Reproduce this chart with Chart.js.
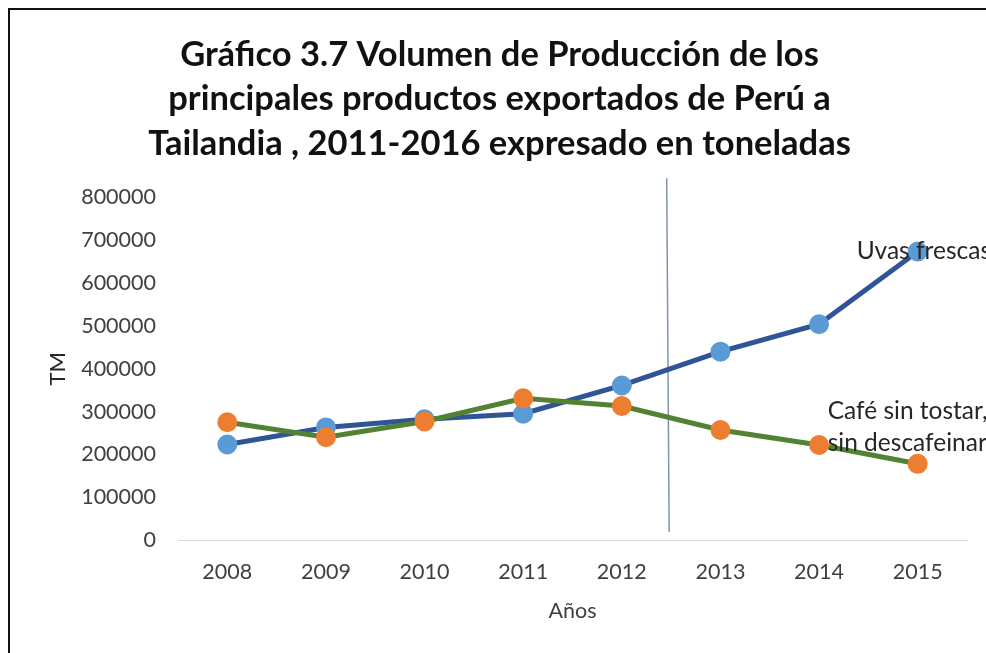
<!DOCTYPE html>
<html lang="es">
<head>
<meta charset="utf-8">
<title>Gráfico 3.7</title>
<script src="https://cdn.jsdelivr.net/npm/chart.js@4.4.1/dist/chart.umd.min.js"></script>
<style>
  html, body { margin: 0; padding: 0; background: #fff; overflow: hidden; }
  #frame { position: absolute; left: 8px; top: 8px; width: 1200px; height: 900px; border: 2px solid #111; }
  #chart { position: absolute; left: 0; top: 0; }
</style>
</head>
<body>
<div id="frame"></div>
<canvas id="chart" width="986" height="653"></canvas>
<script>
const years = ['2008', '2009', '2010', '2011', '2012', '2013', '2014', '2015'];
const uvasFrescas = [223000, 263000, 282000, 295000, 361000, 440000, 504000, 674000];
const cafeSinTostar = [275000, 240000, 277000, 331000, 313000, 257000, 222000, 178000];
const seriesNames = ['Uvas frescas', 'Café sin tostar, sin descafeinar'];
const titleLines = [
  'Gráfico 3.7 Volumen de Producción de los',
  'principales productos exportados de Perú a',
  'Tailandia , 2011-2016 expresado en toneladas',
];

const FONT = 'Lato, "Open Sans", sans-serif';

// etiquetas junto al último punto + línea vertical entre 2012 y 2013
const annotations = {
  id: 'annotations',
  beforeDatasetsDraw(chart) {
    const { ctx, scales: { x, y } } = chart;
    ctx.save();
    ctx.strokeStyle = '#7f93ae';
    ctx.lineWidth = 1.5;
    ctx.beginPath();
    ctx.moveTo(x.getPixelForValue(4.455), y.getPixelForValue(845000));
    ctx.lineTo(x.getPixelForValue(4.48), y.getPixelForValue(19000));
    ctx.stroke();
    ctx.restore();
  },
  afterDatasetsDraw(chart) {
    const { ctx } = chart;
    const uvasLast = chart.getDatasetMeta(0).data[years.length - 1];
    const cafeLast = chart.getDatasetMeta(1).data[years.length - 1];
    ctx.save();
    ctx.font = `24.5px ${FONT}`;
    ctx.fillStyle = '#262626';
    ctx.textAlign = 'left';
    ctx.textBaseline = 'alphabetic';
    ctx.fillText('Uvas frescas', uvasLast.x - 61, uvasLast.y + 8);
    ctx.fillText('Café sin tostar,', cafeLast.x - 90, cafeLast.y - 45);
    ctx.fillText('sin descafeinar', cafeLast.x - 90, cafeLast.y - 13);
    ctx.restore();
  },
};

new Chart(document.getElementById('chart'), {
  type: 'line',
  data: {
    labels: years,
    datasets: [
      {
        label: seriesNames[0],
        data: uvasFrescas,
        order: 1,
        borderColor: '#2f5597',
        borderWidth: 5,
        pointBackgroundColor: '#5b9bd5',
        pointBorderColor: '#5b9bd5',
        pointRadius: 7.5,
        tension: 0,
      },
      {
        label: seriesNames[1],
        data: cafeSinTostar,
        order: 0,
        borderColor: '#548235',
        borderWidth: 5,
        pointBackgroundColor: '#ed7d31',
        pointBorderColor: '#ed7d31',
        pointRadius: 7.5,
        tension: 0,
      },
    ],
  },
  options: {
    responsive: false,
    animation: false,
    layout: { padding: { left: 32, right: 19, top: 0, bottom: 13 } },
    plugins: {
      legend: { display: false },
      tooltip: { enabled: false },
      title: {
        display: true,
        text: titleLines,
        color: '#111',
        font: { family: FONT, size: 34.5, weight: 'bold', lineHeight: 1.3 },
        padding: { top: 32, bottom: 31 },
      },
    },
    scales: {
      x: {
        offset: true,
        grid: { display: false, drawTicks: false },
        border: { display: true, color: '#d9d9d9', width: 1 },
        ticks: { color: '#404040', font: { family: FONT, size: 21.5 }, padding: 19, maxRotation: 0 },
        title: { display: true, text: 'Años', color: '#404040', font: { family: FONT, size: 21.5 }, padding: { top: 0, bottom: 16 } },
        afterFit: scale => { scale.height = 100; },
      },
      y: {
        min: 0,
        max: 800000,
        grid: { display: false, drawTicks: false },
        border: { display: false },
        ticks: { stepSize: 100000, color: '#404040', font: { family: FONT, size: 21.5 }, padding: 22, callback: value => String(value) },
        title: { display: true, text: 'TM', color: '#262626', font: { family: FONT, size: 22 }, padding: { top: 13, bottom: 0 } },
        afterFit: scale => { scale.width = 146; },
      },
    },
  },
  plugins: [annotations],
});
</script>
</body>
</html>
